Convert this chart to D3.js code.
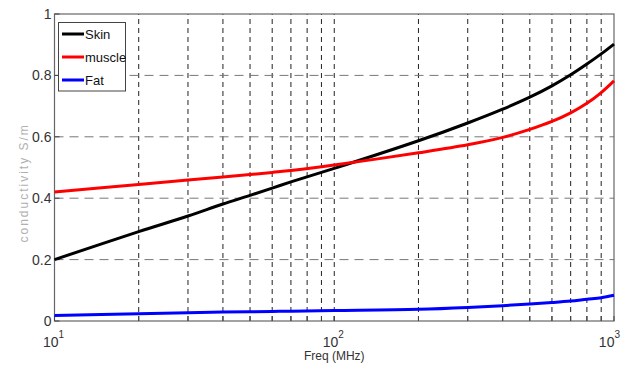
<!DOCTYPE html>
<html>
<head>
<meta charset="utf-8">
<script src="https://cdn.jsdelivr.net/npm/d3@7"></script>
<style>
  body { margin: 0; background: #fff; }
  svg { display: block; font-family: "Liberation Sans Narrow", "Liberation Sans", Arial, sans-serif; }
</style>
</head>
<body>
<div id="chart"></div>
<script>
// values (freq in MHz, conductivity in S/m)
const freqs = [10, 20, 30, 40, 50, 60, 70, 100, 200, 300, 400, 500, 600, 700, 800, 900, 1000];
const skin = [0.2, 0.291, 0.342, 0.381, 0.409, 0.433, 0.453, 0.497, 0.587, 0.645, 0.69, 0.729, 0.766, 0.802, 0.837, 0.87, 0.902];
const muscle = [0.42, 0.445, 0.459, 0.469, 0.477, 0.484, 0.49, 0.508, 0.548, 0.574, 0.598, 0.624, 0.65, 0.678, 0.709, 0.744, 0.782];
const fat = [0.018, 0.024, 0.027, 0.029, 0.03, 0.031, 0.032, 0.034, 0.038, 0.044, 0.05, 0.055, 0.06, 0.065, 0.071, 0.076, 0.084];
const seriesNames = ["Skin", "muscle", "Fat"];
const seriesColors = ["#000000", "#ff0000", "#0000ff"];
const yTicks = [0, 0.2, 0.4, 0.6, 0.8, 1];
const xMajor = [10, 100, 1000];
const xMinor = [20, 30, 40, 50, 60, 70, 80, 90, 100, 200, 300, 400, 500, 600, 700, 800, 900];

function draw() {
    const width = 621, height = 365;
    const margin = {left: 54.5, right: 7, top: 14, bottom: 44};

    const x = d3.scaleLog().domain([10, 1000]).range([margin.left, width - margin.right]);
    const y = d3.scaleLinear().domain([0, 1]).range([height - margin.bottom, margin.top]);

    const svg = d3.select("#chart").append("svg")
        .attr("width", width)
        .attr("height", height);

    // grid
    const grid = svg.append("g");
    grid.selectAll(".vg").data(xMinor).join("line")
        .attr("x1", d => x(d)).attr("x2", d => x(d))
        .attr("y1", y(0)).attr("y2", y(1))
        .attr("stroke", "#222").attr("stroke-width", 1)
        .attr("stroke-dasharray", "5,4");
    grid.selectAll(".hg").data(yTicks.slice(1, -1)).join("line")
        .attr("x1", x(10)).attr("x2", x(1000))
        .attr("y1", d => y(d)).attr("y2", d => y(d))
        .attr("stroke", "#777").attr("stroke-width", 1)
        .attr("stroke-dasharray", "9,6");

    // frame
    svg.append("rect")
        .attr("x", x(10)).attr("y", y(1))
        .attr("width", x(1000) - x(10)).attr("height", y(0) - y(1))
        .attr("fill", "none").attr("stroke", "#666").attr("stroke-width", 1.2);

    // ticks inward
    const tk = svg.append("g").attr("stroke", "#444");
    tk.selectAll(".yt").data(yTicks).join("line")
        .attr("x1", x(10)).attr("x2", x(10) + 5)
        .attr("y1", d => y(d)).attr("y2", d => y(d));
    tk.selectAll(".xt").data(xMinor.concat(xMajor)).join("line")
        .attr("x1", d => x(d)).attr("x2", d => x(d))
        .attr("y1", y(0)).attr("y2", y(0) - 5);

    // tick labels
    svg.selectAll(".yl").data(yTicks).join("text")
        .attr("x", x(10) - 3).attr("y", d => y(d) + 5)
        .attr("text-anchor", "end")
        .attr("font-size", 14).attr("fill", "#333")
        .text(d => d);
    const xl = svg.selectAll(".xl").data(xMajor).join("text")
        .attr("x", (d, i) => i === xMajor.length - 1 ? width - 1 : x(d) - 1)
        .attr("y", y(0) + 26)
        .attr("text-anchor", (d, i) => i === xMajor.length - 1 ? "end" : "middle")
        .attr("font-size", 14).attr("fill", "#333");
    xl.append("tspan").text("10");
    xl.append("tspan").attr("dy", -9).attr("font-size", 10).text(d => Math.round(Math.log10(d)));

    svg.append("text")
        .attr("x", x(100)).attr("y", height - 5)
        .attr("text-anchor", "middle")
        .attr("font-size", 12).attr("fill", "#333")
        .text("Freq (MHz)");

    svg.append("text")
        .attr("transform", `translate(28,${y(0.45)}) rotate(-90)`)
        .attr("text-anchor", "middle")
        .attr("font-size", 12).attr("fill", "#b0b0b0")
        .attr("letter-spacing", 2)
        .text("conductivity S/m");

    // curves
    const line = d3.line()
        .x((d, i) => x(freqs[i]))
        .y(d => y(d))
        .curve(d3.curveCatmullRom);
    [skin, muscle, fat].forEach((vals, i) => {
        svg.append("path")
            .attr("d", line(vals))
            .attr("fill", "none")
            .attr("stroke", seriesColors[i])
            .attr("stroke-width", 3);
    });

    // legend
    const lg = svg.append("g");
    lg.append("rect")
        .attr("x", 58.5).attr("y", 22.5).attr("width", 67).attr("height", 68.5)
        .attr("fill", "#fff").attr("stroke", "#444").attr("stroke-width", 1);
    seriesNames.forEach((name, i) => {
        const yy = 34 + i * 23;
        lg.append("line")
            .attr("x1", 62).attr("x2", 84).attr("y1", yy).attr("y2", yy)
            .attr("stroke", seriesColors[i]).attr("stroke-width", 3);
        lg.append("text")
            .attr("x", 85).attr("y", yy + 5)
            .attr("font-size", 13).attr("fill", "#111")
            .text(name);
    });
}

window.onload = draw;
</script>
</body>
</html>
